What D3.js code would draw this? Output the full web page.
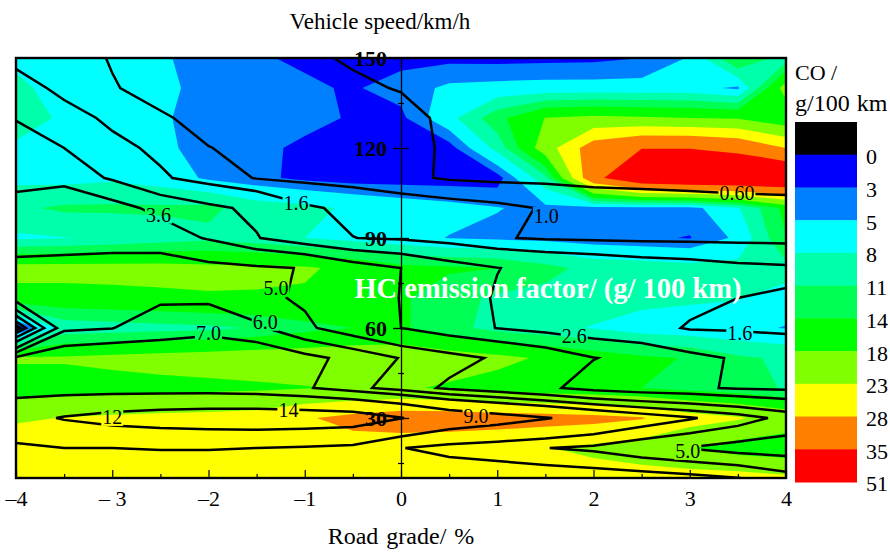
<!DOCTYPE html>
<html>
<head>
<meta charset="utf-8">
<script src="https://cdn.jsdelivr.net/npm/d3@7"></script>
<style>
  html, body { margin: 0; padding: 0; background: #fff; }
  svg { display: block; }
  text { font-family: "Liberation Serif", serif; fill: #000; }
</style>
</head>
<body>
<div id="chart"></div>
<script>
const grades = [-4, -3.5, -3, -2.5, -2, -1.5, -1, -0.5, 0, 0.5, 1, 1.5, 2, 2.5, 3, 3.5, 4]
const speeds = [150, 140, 130, 120, 110, 100, 90, 80, 70, 60, 50, 40, 30, 20, 10]

// CO emission, one row per speed, top row first
const co150 = [7, 6.8, 6.5, 5.2, 4.4, 3.2, 2.7, 2.5, 2.4, 2.4, 2.3, 2.4, 2.5, 3.0, 5.2, 14.5, 9.5]
const co140 = [9, 6.2, 6, 5.3, 4.6, 4.0, 3.3, 2.8, 3.8, 5.5, 5.8, 6, 6, 6, 6, 4.5, 20]
const co130 = [9.5, 7.5, 6.8, 5.2, 4.4, 4.0, 3.6, 2.8, 2.5, 7, 13, 18.1, 19, 18.5, 18, 17.6, 14.5]
const co120 = [7.5, 7, 6.8, 5.3, 4.5, 3.5, 2.6, 2.3, 2.0, 2, 9, 20.5, 31, 34.8, 34.8, 33, 28]
const co110 = [7.2, 7, 7.5, 6.5, 4.6, 3.5, 2.5, 2, 2, 2, 2, 10, 33, 42, 44, 44, 44]
const co100 = [10.5, 11.5, 11.5, 11.5, 11.7, 9.5, 8.8, 7.5, 6.5, 5.8, 5.1, 4.4, 4, 4, 4, 7.7, 15]
const co90 = [7.5, 7.9, 8.6, 9.5, 10.3, 9.3, 8, 7, 6, 4.9, 4.5, 4.2, 3.6, 3.3, 2.9, 5.5, 14]
const co80 = [19.5, 19.5, 19.5, 19.5, 19, 19, 18.5, 17, 15, 14.5, 14, 12, 10, 9.5, 9, 9, 10]
const co70 = [16.5, 16.5, 16.8, 17.2, 17.7, 17.6, 17.5, 16, 14.5, 12, 10.5, 10, 9.5, 9, 8.6, 8.2, 6]
const co60 = [1.5, 9, 9.5, 10, 10.3, 11.3, 13, 14, 14.5, 12, 10, 9, 7.8, 6.5, 6, 5.5, 4.9]
const co50 = [18.5, 18.5, 19, 19.5, 20, 20.5, 20.5, 21, 21, 20, 19, 17.5, 16, 14.6, 13.8, 11.5, 10.5]
const co40 = [16, 16, 16.5, 16.8, 17, 17.3, 17.8, 18.2, 18.5, 17.5, 16.5, 15.5, 14.8, 14, 13, 12, 10.8]
const co30 = [22, 23.2, 23.8, 24.2, 24.5, 25, 27.5, 29.5, 31, 31, 30.5, 30, 29.5, 28.3, 25, 23.5, 21]
const co20 = [27.5, 26, 26, 26, 26, 26, 26, 26, 25, 24.5, 24, 23.2, 22, 20.5, 18.3, 16, 15]
const co10 = [26, 26, 26, 26, 26, 26, 26, 25.5, 25, 25, 25, 25, 25, 25, 25, 25, 24]

// HC emission factor, same grid
const hc150 = [1.4, 1.2, 0.97, 0.85, 0.75, 0.68, 0.63, 0.58, 0.5, 0.45, 0.42, 0.4, 0.4, 0.4, 0.4, 0.4, 0.4]
const hc140 = [1.95, 1.4, 1.03, 0.85, 0.78, 0.72, 0.68, 0.63, 0.59, 0.47, 0.44, 0.43, 0.42, 0.42, 0.42, 0.42, 0.42]
const hc130 = [2.55, 1.9, 1.45, 1.05, 0.87, 0.79, 0.74, 0.7, 0.66, 0.56, 0.5, 0.46, 0.45, 0.45, 0.45, 0.45, 0.45]
const hc120 = [3.1, 2.6, 1.8, 1.45, 1.01, 0.9, 0.82, 0.76, 0.67, 0.57, 0.52, 0.48, 0.47, 0.47, 0.47, 0.47, 0.47]
const hc110 = [3.4, 3.1, 2.5, 1.7, 1.3, 0.97, 0.87, 0.8, 0.68, 0.56, 0.52, 0.51, 0.49, 0.485, 0.485, 0.47, 0.47]
const hc100 = [3.83, 4.9, 4.0, 3.3, 2.8, 2.4, 1.7, 1.45, 1.3, 1.2, 1.1, 0.97, 0.85, 0.8, 0.75, 0.72, 0.7]
const hc90 = [4.2, 4.4, 4.4, 4.2, 3.5, 2.65, 2.0, 1.61, 1.5, 1.3, 1.04, 0.94, 0.9, 0.88, 0.87, 0.86, 0.85]
const hc80 = [5.46, 5.46, 5.6, 5.8, 5.38, 5.17, 4.95, 4.1, 3.6, 3.0, 2.62, 2.35, 2.2, 2, 1.9, 1.75, 1.68]
const hc70 = [5.6, 5.5, 5.5, 5.8, 5.8, 5.25, 4.85, 4, 3.58, 3.0, 2.53, 2.3, 2.1, 1.95, 1.8, 1.6, 1.56]
const hc60 = [0.5, 5.8, 5.97, 6.7, 6.8, 6.2, 5.2, 4.4, 3.6, 3.0, 2.58, 2.3, 2.05, 1.9, 1.53, 1.5, 1.5]
const hc50 = [7.2, 7.8, 8.03, 7.45, 7.55, 7.9, 7.3, 6.7, 5.95, 5.4, 4.85, 4.3, 3.63, 3.3, 2.85, 2.5, 2]
const hc40 = [8, 8, 8, 8, 8, 7.8, 7.15, 6.3, 5.55, 4.8, 4.3, 3.8, 3.2, 2.9, 2.75, 2.5, 2.4]
const hc30 = [11, 12.2, 13, 13.5, 13.8, 13.9, 13.8, 13.5, 12.1, 10.5, 9.8, 9.1, 8.4, 7.7, 7.1, 6.5, 5.7]
const hc20 = [8.6, 9, 9, 9.05, 9.05, 9, 8.8, 8.5, 7.05, 6.5, 6.25, 6.02, 5.8, 5.3, 4.95, 4.6, 4.5]
const hc10 = [8.2, 8.3, 8.3, 8.3, 8.3, 8.3, 8.3, 8.3, 8.2, 8.17, 7.98, 7.75, 7.6, 7.5, 7.3, 7.03, 6.4]

const coLevels = [3, 5, 8, 11, 14, 18, 23, 28, 35]
const coColors = ["#0000ff", "#0080ff", "#00ffff", "#00ffaa", "#00ff55", "#00ff00", "#80ff00", "#ffff00", "#ff8000", "#ff0000"]
const legendLabels = ["0", "3", "5", "8", "11", "14", "18", "23", "28", "35", "51"]

const hcLevels = [0.6, 1.0, 1.6, 2.6, 3.6, 5.0, 6.0, 7.0, 9.0, 12]
const hcLabelText = ["3.6", "1.6", "1.0", "0.60", "5.0", "6.0", "7.0", "12", "14", "9.0", "2.6", "1.6", "5.0"]
const hcLabelGrade = [-2.52, -1.09, 1.51, 3.49, -1.3, -1.41, -2, -3, -1.17, 0.78, 1.8, 3.52, 2.98]
const hcLabelSpeed = [97.7, 101.7, 97.3, 105, 73.3, 62, 58.3, 30.3, 32.7, 30.7, 57.3, 58.3, 19]

const gradeTicks = [-4, -3, -2, -1, 0, 1, 2, 3, 4]
const gradeTickLabels = ["–4", "– 3", "–2", "–1", "0", "1", "2", "3", "4"]
const gradeMinorTicks = [-3.5, -2.5, -1.5, -0.5, 0.5, 1.5, 2.5, 3.5]
const speedTicks = [30, 60, 90, 120, 150]
const speedMinorTicks = [15, 45, 75, 105, 135]

const width = 890
const height = 552
const plot = { left: 16, right: 786, top: 58, bottom: 478 }

const svg = d3.select("#chart").append("svg")
    .attr("width", width)
    .attr("height", height)

const xScale = d3.scaleLinear().domain([-4, 4]).range([plot.left, plot.right])
const yScale = d3.scaleLinear().domain([10, 150]).range([plot.bottom, plot.top])

// contour coordinates have grid node i at i + 0.5
const gridPath = d3.geoPath(d3.geoTransform({
    point: function (cx, cy) {
        const grade = grades[0] + (cx - 0.5) * (grades[1] - grades[0])
        const speed = speeds[0] + (cy - 0.5) * (speeds[1] - speeds[0])
        this.stream.point(xScale(grade), yScale(speed))
    }
}))

const coValues = [co150, co140, co130, co120, co110, co100, co90, co80, co70, co60, co50, co40, co30, co20, co10].flat()
const hcValues = [hc150, hc140, hc130, hc120, hc110, hc100, hc90, hc80, hc70, hc60, hc50, hc40, hc30, hc20, hc10].flat()

const defs = svg.append("defs")
defs.append("clipPath").attr("id", "plotclip").append("rect")
    .attr("x", plot.left).attr("y", plot.top)
    .attr("width", plot.right - plot.left).attr("height", plot.bottom - plot.top)

const plotArea = svg.append("g").attr("clip-path", "url(#plotclip)")

plotArea.append("rect")
    .attr("x", plot.left).attr("y", plot.top)
    .attr("width", plot.right - plot.left).attr("height", plot.bottom - plot.top)
    .attr("fill", coColors[0])

const coContours = d3.contours().size([grades.length, speeds.length]).thresholds(coLevels)(coValues)
plotArea.selectAll("path.band")
    .data(coContours)
    .join("path")
    .attr("class", "band")
    .attr("d", gridPath)
    .attr("fill", (d, i) => coColors[i + 1])

// contour labels, the lines get a gap behind each one
const labels = svg.append("g")
const labelText = labels.selectAll("text")
    .data(hcLabelText)
    .join("text")
    .attr("x", (d, i) => xScale(hcLabelGrade[i]))
    .attr("y", (d, i) => yScale(hcLabelSpeed[i]))
    .attr("dy", "0.34em")
    .attr("text-anchor", "middle")
    .attr("font-size", 20)
    .text(d => d)

const mask = defs.append("mask").attr("id", "labelgaps").attr("maskUnits", "userSpaceOnUse")
    .attr("x", 0).attr("y", 0).attr("width", width).attr("height", height)
mask.append("rect").attr("width", width).attr("height", height).attr("fill", "#fff")
labelText.each(function () {
    const b = this.getBBox()
    mask.append("rect")
        .attr("x", b.x - 1).attr("y", b.y + 2)
        .attr("width", b.width + 2).attr("height", b.height - 4)
        .attr("fill", "#000")
})

const hcContours = d3.contours().size([grades.length, speeds.length]).thresholds(hcLevels)(hcValues)
const lineLayer = svg.insert("g", "g:last-of-type").attr("clip-path", "url(#plotclip)")
    .append("g").attr("mask", "url(#labelgaps)")
lineLayer.selectAll("path")
    .data(hcContours)
    .join("path")
    .attr("d", gridPath)
    .attr("fill", "none")
    .attr("stroke", "#000")
    .attr("stroke-width", 2.5)
    .attr("stroke-linejoin", "miter")

// frame
svg.append("rect")
    .attr("x", plot.left).attr("y", plot.top)
    .attr("width", plot.right - plot.left).attr("height", plot.bottom - plot.top)
    .attr("fill", "none")
    .attr("stroke", "#000")
    .attr("stroke-width", 2.4)

// bottom axis, ticks point inward
const xAxis = svg.append("g")
    .attr("transform", `translate(0,${plot.bottom})`)
    .call(d3.axisBottom(xScale).tickValues(gradeTicks).tickSize(-8).tickSizeOuter(0).tickPadding(12)
        .tickFormat((d, i) => gradeTickLabels[i]))
xAxis.select(".domain").remove()
xAxis.selectAll("line").attr("stroke-width", 1.2)
xAxis.selectAll("text").attr("font-family", "Liberation Serif").attr("font-size", 22)

const xMinor = svg.append("g")
    .attr("transform", `translate(0,${plot.bottom})`)
    .call(d3.axisBottom(xScale).tickValues(gradeMinorTicks).tickSize(-4).tickSizeOuter(0).tickFormat(""))
xMinor.select(".domain").remove()
xMinor.selectAll("line").attr("stroke-width", 1.2)

// speed axis sits in the middle of the plot at grade 0
const yAxis = svg.append("g")
    .attr("transform", `translate(${xScale(0)},0)`)
    .call(d3.axisLeft(yScale).tickValues(speedTicks).tickSize(8).tickSizeOuter(0).tickPadding(6))
yAxis.selectAll("line").attr("x1", 8).attr("stroke-width", 1.3)
yAxis.select(".domain").attr("stroke-width", 1.3)
yAxis.selectAll("text")
    .attr("font-family", "Liberation Serif")
    .attr("font-size", 22)
    .attr("font-weight", "bold")

const yMinor = svg.append("g")
    .attr("transform", `translate(${xScale(0)},0)`)
    .call(d3.axisLeft(yScale).tickValues(speedMinorTicks).tickSize(3).tickSizeOuter(0).tickFormat(""))
yMinor.select(".domain").remove()
yMinor.selectAll("line").attr("x1", 3).attr("stroke-width", 1.2)

svg.append("text")
    .attr("x", 380).attr("y", 29)
    .attr("text-anchor", "middle")
    .attr("font-size", 23)
    .text("Vehicle speed/km/h")

svg.append("text")
    .attr("x", 401).attr("y", 544)
    .attr("text-anchor", "middle")
    .attr("font-size", 24)
    .attr("word-spacing", 2)
    .text("Road grade/ %")

svg.append("text")
    .attr("x", 548).attr("y", 298)
    .attr("text-anchor", "middle")
    .attr("font-size", 28.5)
    .attr("font-weight", "bold")
    .style("fill", "#fff")
    .text("HC emission factor/ (g/ 100 km)")

// colour legend
const legendSwatches = ["#000000"].concat(coColors)
const legendY = d3.scaleBand().domain(d3.range(legendSwatches.length)).range([122, 482])

svg.append("g").selectAll("rect")
    .data(legendSwatches)
    .join("rect")
    .attr("x", 795)
    .attr("y", (d, i) => legendY(i))
    .attr("width", 62)
    .attr("height", legendY.bandwidth() + 0.5)
    .attr("fill", d => d)

svg.append("g").selectAll("text")
    .data(legendLabels)
    .join("text")
    .attr("x", 866)
    .attr("y", (d, i) => legendY(i) + legendY.bandwidth() + 2)
    .attr("dy", "0.34em")
    .attr("font-size", 22)
    .text(d => d)

svg.append("text").attr("x", 795).attr("y", 80).attr("font-size", 22).text("CO /")
svg.append("text").attr("x", 795).attr("y", 111).attr("font-size", 24).attr("word-spacing", 1).text("g/100 km")
</script>
</body>
</html>
